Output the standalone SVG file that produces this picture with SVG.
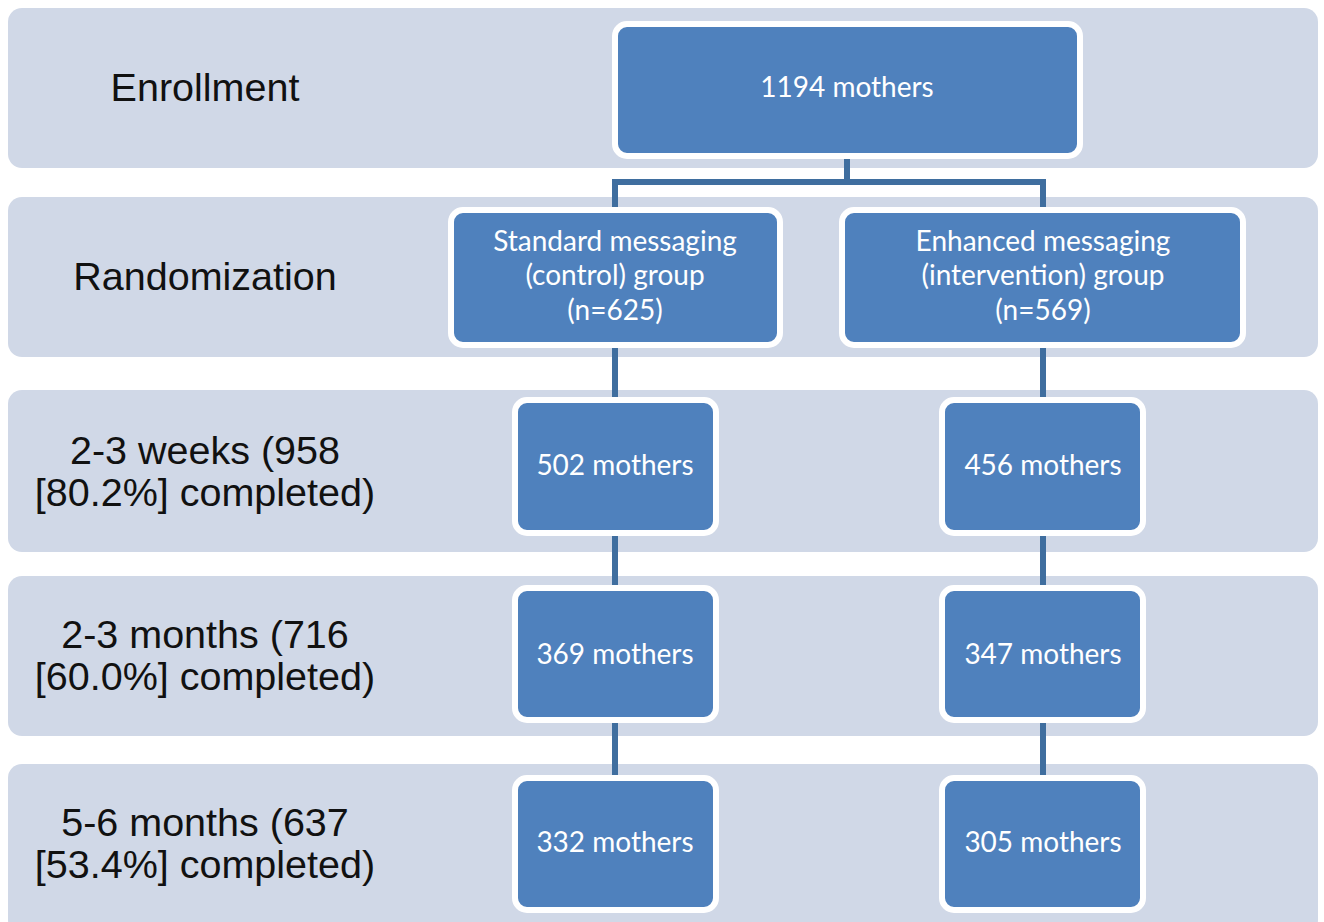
<svg xmlns="http://www.w3.org/2000/svg" width="1324" height="922" viewBox="0 0 1324 922">
<style>
.band{fill:#D0D8E7}
.box{fill:#4F81BD;stroke:#FFFFFF;stroke-width:6}
.lbl{font-family:"Liberation Sans",Arial,sans-serif;font-size:39.5px;fill:#111;text-anchor:middle}
.bt{font-family:Lato,"Open Sans",sans-serif;font-size:28px;fill:#FFFFFF;text-anchor:middle}
.con{stroke:#3F6E9F;stroke-width:6;fill:none}
</style>
<rect width="1324" height="922" fill="#FFFFFF"/>
<g id="bands">
<rect class="band" x="8" y="8" width="1310" height="160" rx="14"/>
<rect class="band" x="8" y="197" width="1310" height="160" rx="14"/>
<rect class="band" x="8" y="390" width="1310" height="162" rx="14"/>
<rect class="band" x="8" y="576" width="1310" height="160" rx="14"/>
<rect class="band" x="8" y="764" width="1310" height="170" rx="14"/>
</g>
<g id="labels">
<text class="lbl" x="205" y="101">Enrollment</text>
<text class="lbl" x="205" y="290">Randomization</text>
<text class="lbl" x="205" y="464">2-3 weeks (958</text>
<text class="lbl" x="205" y="506">[80.2%] completed)</text>
<text class="lbl" x="205" y="648">2-3 months (716</text>
<text class="lbl" x="205" y="690">[60.0%] completed)</text>
<text class="lbl" x="205" y="836">5-6 months (637</text>
<text class="lbl" x="205" y="878">[53.4%] completed)</text>
</g>
<g id="connectors">
<path class="con" d="M847 156 V182 M615 210 V182 H1043 V210"/>
<path class="con" d="M615 345 V400 M1043 345 V400"/>
<path class="con" d="M615 533 V588 M1043 533 V588"/>
<path class="con" d="M615 720 V778 M1043 720 V778"/>
</g>
<g id="n1194">
<rect class="box" x="615" y="24" width="465" height="132" rx="12"/>
<text class="bt" x="847" y="97">1194 mothers</text>
</g>
<g id="nstd">
<rect class="box" x="451" y="210" width="329" height="135" rx="12"/>
<text class="bt" x="615" y="251">Standard messaging</text>
<text class="bt" x="615" y="285">(control) group</text>
<text class="bt" x="615" y="320">(n=625)</text>
</g>
<g id="nenh">
<rect class="box" x="842" y="210" width="401" height="135" rx="12"/>
<text class="bt" x="1043" y="251">Enhanced messaging</text>
<text class="bt" x="1043" y="285">(intervention) group</text>
<text class="bt" x="1043" y="320">(n=569)</text>
</g>
<g id="n502">
<rect class="box" x="515" y="400" width="201" height="133" rx="12"/>
<text class="bt" x="615" y="475">502 mothers</text>
</g>
<g id="n456">
<rect class="box" x="942" y="400" width="201" height="133" rx="12"/>
<text class="bt" x="1043" y="475">456 mothers</text>
</g>
<g id="n369">
<rect class="box" x="515" y="588" width="201" height="132" rx="12"/>
<text class="bt" x="615" y="664">369 mothers</text>
</g>
<g id="n347">
<rect class="box" x="942" y="588" width="201" height="132" rx="12"/>
<text class="bt" x="1043" y="664">347 mothers</text>
</g>
<g id="n332">
<rect class="box" x="515" y="778" width="201" height="132" rx="12"/>
<text class="bt" x="615" y="852">332 mothers</text>
</g>
<g id="n305">
<rect class="box" x="942" y="778" width="201" height="132" rx="12"/>
<text class="bt" x="1043" y="852">305 mothers</text>
</g>
</svg>
